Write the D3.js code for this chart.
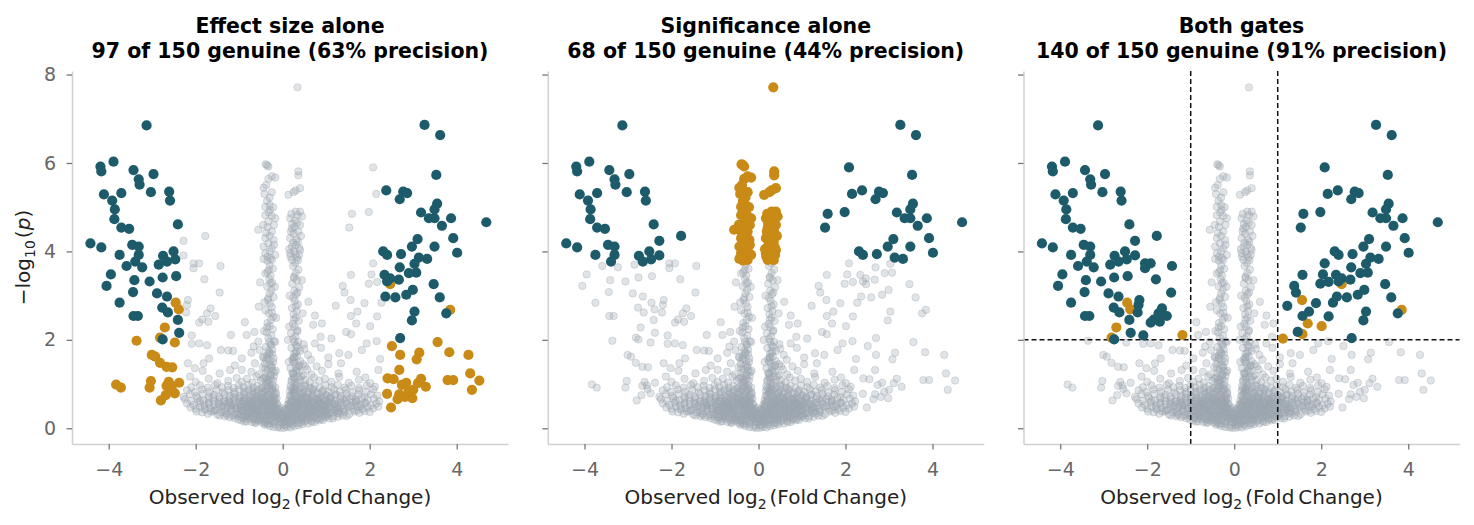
<!DOCTYPE html>
<html><head><meta charset="utf-8">
<script src="https://cdn.jsdelivr.net/npm/d3@7"></script>
<style>
body{margin:0;background:#fff}
svg text{font-family:"DejaVu Sans",sans-serif}
</style></head>
<body><svg id="chart" width="1474" height="525"></svg>
<script>
// ---------------- DATA (x = observed log2 FC, y = -log10 p), flat [x,y,...] ----------------
const titleLine1 = ["Effect size alone", "Significance alone", "Both gates"];
const titleLine2 = ["97 of 150 genuine (63% precision)", "68 of 150 genuine (44% precision)", "140 of 150 genuine (91% precision)"];
const xTicks = [-4, -2, 0, 2, 4];
const yTicks = [0, 2, 4, 6, 8];
const effectGate = 2.3, sigGate = 3.75, bothFcGate = 1, bothPGate = 2;

// genuine features
const genuineXY = [
 -3.13,6.85, -4.19,5.92, -4.17,5.81, -3.89,6.03, -3.43,5.84, -2.97,5.75, -3.31,5.63, -3.29,5.51, -4.11,5.29, -3.71,5.32,
 -3.03,5.34, -2.61,5.35, -2.59,5.15, -3.92,5.15, -3.86,4.95, -3.87,4.73, -3.71,4.54, -3.53,4.51, -2.41,4.61, -4.42,4.18,
 -4.17,4.09, -3.46,4.15, -3.31,4.11, -2.28,4.24, -1.78,4.35, -3.75,3.92, -3.31,3.92, -3.39,3.77, -3.59,3.67, -3.23,3.64,
 -2.75,3.90, -2.51,4.00, -2.28,3.91, -2.85,3.70, -2.66,3.77, -2.47,3.82, -2.05,3.73, -1.92,3.73, -1.43,3.67, -2.05,3.62,
 -3.95,3.48, -4.05,3.22, -3.41,3.35, -3.06,3.32, -2.76,3.41, -2.45,3.44, -1.80,3.37, -3.44,3.08, -3.75,2.84, -2.89,3.05,
 -2.66,2.98, -2.77,2.73, -2.64,2.62, -2.18,2.90, -2.20,2.79, -2.22,2.62, -2.41,2.45, -3.43,2.54, -3.33,2.54, -1.45,3.07,
 -1.66,2.71, -1.74,2.60, -1.55,2.54, -1.85,2.46, -1.71,2.41, -1.92,2.39, -2.38,2.16, -2.09,2.10, -2.76,2.01,
 3.26,6.86, 3.62,6.63, 2.08,5.90, 3.53,5.73, 2.15,5.30, 2.38,5.38, 2.77,5.35, 2.86,5.32, 2.69,5.18, 1.59,4.85,
 1.98,4.89, 1.53,4.54, 3.18,4.88, 3.55,5.08, 3.49,4.95, 3.36,4.75, 3.49,4.75, 3.87,4.75, 3.66,4.58, 4.68,4.66,
 3.92,4.30, 4.01,3.97, 3.10,4.28, 2.97,4.11, 3.49,4.11, 2.31,4.00, 2.40,3.92, 2.72,3.94, 3.13,3.86, 3.32,3.83,
 3.03,3.72, 2.08,3.73, 2.69,3.64, 3.07,3.52, 2.90,3.51, 1.57,3.47, 2.04,3.48, 2.34,3.47, 2.47,3.39, 2.67,3.36,
 2.40,3.32, 1.98,3.27, 2.17,3.31, 1.38,3.22, 1.42,3.07, 3.47,3.26, 3.61,2.96, 2.99,3.13, 2.84,3.02, 2.36,2.98,
 2.27,2.84, 2.59,2.96, 1.88,2.83, 1.22,2.77, 1.72,2.64, 1.57,2.54, 3.03,2.64, 2.97,2.44, 2.17,2.53, 3.76,2.60,
 1.46,2.18, 2.70,2.04
];

// null features with large observed effect
const nullFarXY = [
 -2.46,2.84, -2.39,2.69, -2.71,2.28, -2.82,2.05, -2.48,1.94, -3.36,1.98, -3.01,1.66, -2.93,1.62, -2.82,1.48, -2.67,1.39,
 -2.54,1.38, -3.83,0.99, -3.72,0.92, -3.03,1.07, -3.06,0.92, -2.67,0.96, -2.38,1.03, -2.55,0.89, -2.48,0.79, -2.80,0.63,
 -2.69,0.75, -2.57,0.97, -2.62,1.05,
 2.47,3.26, 3.85,2.68, 3.56,1.95, 2.51,1.86, 2.70,1.66, 3.14,1.71, 3.08,1.56, 3.83,1.72, 4.27,1.66, 2.68,1.32,
 4.31,1.24, 2.41,1.13, 2.55,1.11, 2.40,0.78, 2.49,0.47, 2.74,0.98, 2.84,1.03, 2.68,0.77, 2.64,0.66, 2.81,0.71,
 2.98,0.68, 3.00,0.87, 3.11,1.02, 3.29,0.94, 3.79,1.09, 3.92,1.09, 4.52,1.08, 4.35,0.87, 2.89,0.83, 3.18,1.12
];

// null features passing both gates with moderate effect
const nullMidXY = [ -1.19,2.11, 1.56,2.90, 1.69,2.37, 2.01,2.31, 1.57,2.13, 1.12,2.03 ];

// null features with very small p (near-zero effect spike)
const nullSpikeXY = [
 0.34,7.71,
 -0.39,5.97, -0.33,5.92, -0.36,5.95, -0.17,5.67, -0.33,5.64, -0.25,5.70, -0.44,5.44, -0.25,5.34, -0.38,5.50, -0.36,5.14,
 -0.30,5.22, -0.40,5.01, -0.29,4.94, -0.40,4.82, -0.17,4.75, -0.33,4.68, -0.25,4.80, -0.56,4.49, -0.25,4.45, -0.35,4.55,
 -0.40,4.30, -0.21,4.26, -0.30,4.35, -0.44,4.11, -0.25,4.07, -0.33,4.18, -0.40,3.96, -0.17,3.92, -0.30,4.00, -0.44,3.83,
 -0.25,3.81, -0.35,3.88, -0.20,4.15, -0.45,4.60, -0.20,4.60, -0.30,5.05, -0.42,5.30, -0.28,3.85, -0.38,4.42, -0.22,5.00,
 -0.32,4.88, -0.35,3.79,
 0.36,5.81, 0.36,5.72, 0.40,5.43, 0.25,5.34, 0.13,5.28, 0.30,4.90, 0.44,4.79, 0.17,4.75, 0.33,4.64, 0.21,4.52,
 0.36,4.45, 0.17,4.30, 0.35,4.22, 0.21,4.11, 0.40,4.03, 0.17,3.96, 0.33,3.86, 0.21,3.81, 0.28,4.70, 0.40,4.60,
 0.25,4.40, 0.30,4.15, 0.38,3.92, 0.26,4.00, 0.20,4.85, 0.30,5.38, 0.42,4.35, 0.15,4.05, 0.35,3.80, 0.27,4.55,
 0.40,4.90, 0.22,4.62, 0.32,4.27, 0.18,3.88, 0.29,3.93, 0.38,4.08, 0.24,4.20, 0.34,4.82, 0.19,4.45
];

// remaining null features (background cloud)
const nullCloudXY = [
 // spike columns below the significance gate
 -0.31,1.02, -0.22,1.08, -0.38,1.15, -0.27,1.21, -0.19,1.27, -0.34,1.33, -0.25,1.40, -0.41,1.46, -0.29,1.52, -0.21,1.58,
 -0.36,1.65, -0.30,1.71, -0.24,1.78, -0.39,1.84, -0.28,1.90, -0.20,1.97, -0.33,2.04, -0.26,2.10, -0.37,2.17, -0.23,2.24,
 -0.30,2.31, -0.35,2.38, -0.27,2.45, -0.22,2.52, -0.32,2.60, -0.40,2.67, -0.25,2.74, -0.29,2.82, -0.34,2.90, -0.21,2.97,
 -0.30,3.05, -0.26,3.13, -0.36,3.21, -0.24,3.29, -0.31,3.37, -0.28,3.45, -0.35,3.53, -0.23,3.61, -0.30,3.69,
 -0.45,1.12, -0.16,1.30, -0.44,1.60, -0.17,1.95, -0.43,2.20, -0.15,2.50, -0.42,2.85, -0.18,3.20, -0.40,3.50,
 0.28,1.04, 0.21,1.10, 0.35,1.17, 0.25,1.23, 0.31,1.30, 0.18,1.36, 0.38,1.43, 0.27,1.49, 0.22,1.56, 0.33,1.62,
 0.26,1.69, 0.40,1.75, 0.20,1.82, 0.30,1.88, 0.36,1.95, 0.24,2.02, 0.29,2.08, 0.19,2.15, 0.34,2.22, 0.27,2.29,
 0.23,2.36, 0.37,2.43, 0.30,2.50, 0.25,2.58, 0.32,2.65, 0.21,2.72, 0.35,2.80, 0.28,2.88, 0.24,2.95, 0.31,3.03,
 0.27,3.11, 0.38,3.19, 0.22,3.27, 0.33,3.35, 0.26,3.43, 0.30,3.51, 0.36,3.59, 0.24,3.67, 0.29,3.74,
 0.47,1.20, 0.14,1.50, 0.50,1.80, 0.15,2.30, 0.46,2.60, 0.16,3.00, 0.44,3.35, 0.52,1.40, 0.12,2.00,
 -0.35,0.95, -0.28,1.20, -0.40,1.35, -0.22,1.50, -0.33,1.75, -0.26,0.85, -0.38,1.05, 0.30,0.95, 0.22,1.25, 0.37,1.40,
 0.26,1.60, 0.33,1.85, 0.20,0.90, 0.40,1.10,
 -0.33,1.10, -0.26,1.38, -0.35,1.58, -0.24,1.68, -0.31,1.95, -0.36,2.28, -0.25,2.62, -0.33,2.95, -0.28,3.28, -0.32,3.58,
 0.25,1.15, 0.33,1.34, 0.24,1.52, 0.30,1.70, 0.27,1.96, 0.33,2.19, 0.26,2.46, 0.30,2.76, 0.34,3.07, 0.26,3.40,
 // scattered moderate points
 -0.87,2.40, -0.83,2.11, -0.65,2.18, 0.59,2.86, 0.70,2.34, 0.90,2.37, 0.87,2.07, 0.74,2.55, -0.55,2.75, -0.52,3.30,
 // y 1.5 - 2.0
 -2.09,1.91, -1.92,1.92, -1.74,1.88, -1.69,1.58, -1.42,1.77, -1.25,1.76, -1.14,1.75, -0.94,1.58, -0.72,1.71, -0.56,1.96,
 -0.67,1.85, -0.53,1.77, -0.45,1.62, -0.38,1.55, -0.30,1.70, -0.26,1.88, 0.26,1.60, 0.32,1.75, 0.40,1.52, 0.48,1.90,
 0.58,1.66, 0.74,1.92, 0.65,1.55, 1.30,1.70, 1.51,1.66, 1.82,1.77, 1.93,1.92, 2.16,1.97, 2.24,1.57, 1.05,1.60, 0.88,1.82,
 // y 1.2 - 1.5
 -2.18,1.47, -2.02,1.36, -1.82,1.47, -1.21,1.32, -0.94,1.32, -0.72,1.28, -0.64,1.47, -0.55,1.22, -0.46,1.38, -0.38,1.25,
 -0.30,1.43, -0.24,1.30, 0.24,1.24, 0.30,1.40, 0.38,1.28, 0.47,1.45, 0.56,1.33, 0.66,1.22, 0.78,1.40, 0.90,1.30,
 1.28,1.24, 1.34,1.47, 1.70,1.28, 2.20,1.32, -1.45,1.24, 1.05,1.45, -1.10,1.42,
 // y 1.0 - 1.2
 -2.13,1.17, -1.84,1.30, -1.50,1.02, -1.25,1.07, -1.06,1.14, -0.94,1.05, -0.82,1.12, -0.70,1.03, -0.60,1.17, -0.50,1.08,
 -0.42,1.15, -0.34,1.04, -0.27,1.11, -0.20,1.18, 0.20,1.06, 0.27,1.13, 0.35,1.02, 0.43,1.17, 0.52,1.09, 0.62,1.04,
 0.72,1.15, 0.84,1.08, 0.97,1.12, 1.12,1.05, 1.30,1.16, 1.52,1.03, 1.75,1.10, 2.01,1.02, 1.90,1.15, -1.70,1.12, -2.00,1.05,
 // y 0.9 - 1.0
 -2.10,0.93, -1.90,0.97, -1.72,0.92, -1.55,0.98, -1.40,0.93, -1.26,0.96, -1.13,0.91, -1.01,0.97, -0.90,0.93, -0.79,0.98,
 -0.68,0.92, -0.58,0.96, -0.48,0.91, -0.39,0.97, -0.31,0.93, -0.23,0.98, -0.17,0.92, 0.18,0.95, 0.25,0.91, 0.33,0.97,
 0.42,0.93, 0.52,0.98, 0.62,0.92, 0.73,0.96, 0.85,0.91, 0.98,0.97, 1.12,0.93, 1.27,0.98, 1.42,0.92, 1.58,0.96,
 1.75,0.91, 1.93,0.97, 2.12,0.94,
 // y 0.8 - 0.9
 -2.20,0.86, -2.02,0.82, -1.85,0.88, -1.68,0.83, -1.52,0.87, -1.38,0.81, -1.24,0.86, -1.12,0.82, -1.00,0.88, -0.89,0.83,
 -0.78,0.87, -0.67,0.81, -0.57,0.86, -0.47,0.82, -0.38,0.88, -0.30,0.83, -0.22,0.87, -0.16,0.81, 0.17,0.85, 0.24,0.81,
 0.32,0.87, 0.41,0.82, 0.50,0.88, 0.60,0.83, 0.70,0.87, 0.81,0.81, 0.93,0.86, 1.05,0.82, 1.18,0.88, 1.31,0.83,
 1.45,0.87, 1.60,0.81, 1.76,0.86, 1.92,0.82, 2.08,0.88,
 // y 0.7 - 0.8
 -2.28,0.71, -2.13,0.77, -1.98,0.73, -1.84,0.78, -1.70,0.72, -1.58,0.76, -1.46,0.71, -1.34,0.77, -1.22,0.73, -1.10,0.78,
 -0.99,0.72, -0.88,0.76, -0.78,0.71, -0.68,0.77, -0.58,0.73, -0.49,0.78, -0.40,0.72, -0.32,0.76, -0.23,0.71, -0.16,0.77,
 0.16,0.73, 0.23,0.78, 0.31,0.72, 0.40,0.76, 0.49,0.71, 0.58,0.77, 0.68,0.73, 0.78,0.78, 0.88,0.72, 0.99,0.76,
 1.10,0.71, 1.22,0.77, 1.34,0.73, 1.47,0.78, 1.60,0.72, 1.74,0.76, 1.88,0.71, 2.03,0.77, 2.18,0.74,
 // y 0.6 - 0.7
 -2.25,0.66, -2.10,0.62, -1.96,0.68, -1.82,0.63, -1.70,0.67, -1.57,0.61, -1.45,0.66, -1.33,0.62, -1.22,0.68, -1.12,0.63,
 -1.02,0.67, -0.92,0.61, -0.83,0.66, -0.74,0.62, -0.65,0.68, -0.56,0.63, -0.47,0.67, -0.38,0.61, -0.30,0.66, -0.21,0.62,
 -0.14,0.68, 0.14,0.63, 0.21,0.67, 0.29,0.61, 0.37,0.66, 0.46,0.62, 0.55,0.68, 0.64,0.63, 0.73,0.67, 0.82,0.61,
 0.91,0.66, 1.00,0.62, 1.10,0.68, 1.21,0.63, 1.32,0.67, 1.44,0.61, 1.56,0.66, 1.69,0.62, 1.81,0.68, 1.95,0.64,
 2.10,0.67, 2.22,0.61,
 // y 0.5 - 0.6
 -2.20,0.56, -2.05,0.53, -1.92,0.58, -1.80,0.52, -1.70,0.57, -1.58,0.54, -1.47,0.59, -1.38,0.51, -1.28,0.56, -1.18,0.53,
 -1.09,0.58, -0.99,0.52, -0.90,0.56, -0.81,0.51, -0.72,0.57, -0.63,0.53, -0.54,0.58, -0.46,0.52, -0.37,0.56, -0.29,0.51,
 -0.20,0.57, -0.12,0.53, 0.12,0.54, 0.20,0.59, 0.28,0.52, 0.37,0.56, 0.45,0.51, 0.54,0.58, 0.62,0.53, 0.71,0.57,
 0.80,0.52, 0.89,0.56, 0.98,0.51, 1.07,0.58, 1.17,0.53, 1.27,0.57, 1.37,0.52, 1.47,0.56, 1.57,0.51, 1.68,0.58,
 1.79,0.54, 1.91,0.57, 2.03,0.52, 2.15,0.56,
 // y 0.4 - 0.5
 -2.12,0.47, -2.00,0.44, -1.90,0.49, -1.78,0.42, -1.67,0.46, -1.56,0.41, -1.46,0.48, -1.36,0.43, -1.27,0.47, -1.17,0.42,
 -1.08,0.46, -0.98,0.41, -0.89,0.48, -0.80,0.44, -0.71,0.49, -0.62,0.42, -0.53,0.46, -0.44,0.41, -0.35,0.48, -0.27,0.43,
 -0.19,0.47, -0.10,0.42, -0.02,0.46, 0.07,0.44, 0.15,0.49, 0.23,0.41, 0.31,0.46, 0.40,0.43, 0.48,0.48, 0.57,0.42,
 0.65,0.47, 0.74,0.41, 0.83,0.45, 0.92,0.49, 1.01,0.43, 1.10,0.47, 1.20,0.42, 1.30,0.46, 1.40,0.41, 1.50,0.48,
 1.61,0.44, 1.72,0.49, 1.83,0.43, 1.95,0.47, 2.08,0.45, 2.20,0.49,
 // y 0.3 - 0.4
 -1.98,0.38, -1.85,0.36, -1.72,0.33, -1.60,0.38, -1.50,0.31, -1.41,0.36, -1.30,0.33, -1.19,0.38, -1.11,0.31, -1.00,0.35,
 -0.91,0.39, -0.82,0.32, -0.74,0.37, -0.65,0.34, -0.57,0.39, -0.49,0.31, -0.41,0.36, -0.33,0.33, -0.24,0.38, -0.16,0.31,
 -0.07,0.35, 0.02,0.39, 0.10,0.32, 0.18,0.36, 0.27,0.33, 0.35,0.38, 0.43,0.31, 0.52,0.35, 0.60,0.39, 0.69,0.32,
 0.78,0.37, 0.86,0.33, 0.95,0.38, 1.04,0.31, 1.13,0.35, 1.22,0.39, 1.31,0.33, 1.42,0.37, 1.53,0.32, 1.64,0.38,
 1.76,0.35, 1.88,0.39, 2.00,0.37,
 // y 0.2 - 0.3
 -1.45,0.29, -1.33,0.27, -1.22,0.25, -1.10,0.23, -1.02,0.28, -0.93,0.24, -0.85,0.21, -0.77,0.27, -0.68,0.23, -0.60,0.26,
 -0.52,0.22, -0.45,0.28, -0.36,0.24, -0.27,0.21, -0.18,0.27, -0.09,0.23, 0.00,0.25, 0.08,0.21, 0.16,0.28, 0.24,0.22,
 0.32,0.26, 0.40,0.23, 0.48,0.29, 0.57,0.21, 0.65,0.27, 0.73,0.24, 0.81,0.22, 0.90,0.28, 0.98,0.25, 1.07,0.23,
 1.16,0.27, 1.27,0.26, 1.38,0.29, 1.47,0.28, -0.30,0.29, 0.60,0.29, -0.80,0.29,
 // y 0.1 - 0.2
 -0.95,0.18, -0.83,0.16, -0.71,0.14, -0.62,0.12, -0.55,0.17, -0.47,0.13, -0.38,0.15, -0.29,0.11, -0.20,0.14, -0.14,0.19,
 -0.04,0.12, 0.05,0.16, 0.12,0.11, 0.19,0.17, 0.26,0.13, 0.33,0.18, 0.41,0.12, 0.50,0.15, 0.58,0.11, 0.66,0.17,
 0.74,0.14, 0.85,0.18, 0.93,0.19, -0.60,0.19, 0.45,0.19,
 // y 0.0 - 0.1
 -0.42,0.08, -0.30,0.05, -0.21,0.03, -0.12,0.02, -0.05,0.01, 0.03,0.01, 0.10,0.03, 0.18,0.02, 0.27,0.05, 0.36,0.07,
 0.45,0.09, -0.08,0.06, 0.07,0.07, -0.35,0.09, 0.22,0.08,
 // dense core fill
 -0.90,0.25, -0.78,0.35, -0.66,0.20, -0.55,0.30, -0.44,0.18, -0.33,0.27, -0.22,0.16, -0.11,0.22, 0.00,0.14, 0.11,0.24,
 0.22,0.18, 0.33,0.31, 0.44,0.20, 0.55,0.34, 0.66,0.24, 0.77,0.30, 0.88,0.36, 1.00,0.33,
 -1.05,0.45, -0.93,0.55, -0.80,0.48, -0.68,0.60, -0.57,0.44, -0.46,0.57, -0.35,0.42, -0.25,0.55, -0.15,0.40, -0.05,0.35,
 0.05,0.42, 0.16,0.52, 0.26,0.44, 0.37,0.60, 0.48,0.46, 0.59,0.55, 0.70,0.43, 0.81,0.58, 0.93,0.50, 1.05,0.56,
 -0.98,0.70, -0.86,0.82, -0.74,0.68, -0.62,0.79, -0.51,0.66, -0.41,0.85, -0.32,0.70, -0.24,0.90, -0.19,0.62, 0.19,0.74,
 0.27,0.88, 0.35,0.65, 0.45,0.80, 0.56,0.70, 0.67,0.90, 0.78,0.66, 0.90,0.82, 1.02,0.74,
 -0.28,0.50, -0.40,0.63, -0.20,0.75, 0.30,0.55, 0.42,0.70, 0.25,0.85, -0.50,0.90, 0.50,0.95, -0.70,0.45, 0.72,0.52,
 -1.20,0.50, 1.20,0.55, -1.35,0.60, 1.40,0.65, -1.60,0.70, 1.62,0.60,
 -1.55,0.42, -1.48,0.55, -1.40,0.48, -1.33,0.38, -1.25,0.62, -1.18,0.45, -1.12,0.70, -1.05,0.32, -0.99,0.60, -0.92,0.42,
 -0.86,0.68, -0.80,0.27, -0.75,0.52, -0.70,0.85, -0.64,0.40, -0.59,0.70, -0.53,0.25, -0.48,0.60, -0.43,0.78, -0.37,0.20,
 -0.32,0.48, -0.27,0.65, -0.23,0.35, -0.18,0.50, -0.13,0.28, -0.09,0.45, -0.04,0.22, 0.02,0.30, 0.06,0.18, 0.10,0.40,
 0.14,0.30, 0.18,0.60, 0.23,0.35, 0.28,0.72, 0.32,0.43, 0.37,0.22, 0.42,0.55, 0.47,0.80, 0.52,0.30, 0.57,0.62,
 0.62,0.40, 0.68,0.78, 0.73,0.28, 0.79,0.50, 0.84,0.68, 0.90,0.40, 0.96,0.58, 1.02,0.28, 1.08,0.65, 1.14,0.42,
 1.20,0.75, 1.26,0.35, 1.33,0.58, 1.40,0.45, 1.47,0.68, 1.55,0.50,
 -0.85,0.30, -0.72,0.38, -0.60,0.33, -0.50,0.40, -0.40,0.30, -0.30,0.40, -0.20,0.32, -0.10,0.30, 0.00,0.20, 0.10,0.28,
 0.20,0.40, 0.30,0.30, 0.40,0.38, 0.50,0.25, 0.60,0.45, 0.70,0.36, 0.80,0.44, -0.78,0.55, -0.62,0.50, -0.42,0.52,
 -0.33,0.58, -0.16,0.45, 0.15,0.45, 0.34,0.50, 0.52,0.52, 0.66,0.58, 0.85,0.55, -0.95,0.40, 0.95,0.42,
 -1.28,0.30, -1.15,0.28, -1.02,0.20, -0.95,0.32, -0.88,0.15, -0.82,0.40, -0.76,0.22, -0.70,0.30, -0.64,0.14, -0.58,0.38,
 -0.52,0.20, -0.47,0.33, -0.41,0.12, -0.36,0.36, -0.31,0.18, -0.26,0.30, -0.21,0.10, -0.16,0.25, -0.12,0.36, -0.07,0.16,
 -0.02,0.28, 0.03,0.08, 0.08,0.34, 0.13,0.20, 0.17,0.12, 0.21,0.30, 0.26,0.20, 0.31,0.38, 0.35,0.12, 0.39,0.30,
 0.45,0.26, 0.50,0.40, 0.55,0.18, 0.61,0.33, 0.67,0.14, 0.72,0.42, 0.78,0.20, 0.83,0.32, 0.89,0.22, 0.95,0.30,
 1.01,0.40, 1.08,0.35, 1.15,0.22, 1.22,0.45, 1.30,0.38,
 -1.22,0.58, -1.10,0.52, -0.97,0.48, -0.90,0.62, -0.84,0.50, -0.77,0.62, -0.71,0.56, -0.66,0.48, -0.61,0.62, -0.55,0.52,
 -0.50,0.70, -0.45,0.50, -0.39,0.58, -0.34,0.75, -0.29,0.60, -0.24,0.48, -0.18,0.68, -0.14,0.56, 0.14,0.55, 0.19,0.48,
 0.24,0.63, 0.29,0.80, 0.33,0.58, 0.38,0.48, 0.43,0.63, 0.49,0.56, 0.54,0.68, 0.60,0.50, 0.65,0.70, 0.70,0.60,
 0.76,0.48, 0.82,0.64, 0.88,0.56, 0.94,0.68, 1.00,0.52, 1.06,0.48, 1.13,0.60, 1.25,0.50,
 -1.80,0.45, -1.70,0.55, -1.65,0.38, 1.70,0.40, 1.78,0.50, 1.68,0.65, -1.90,0.62, 1.88,0.58
];

// ---------------- BUILD ----------------
function pairs(arr, genuine) {
  const out = [];
  for (let i = 0; i < arr.length; i += 2) out.push({x: arr[i], y: arr[i + 1], g: genuine});
  return out;
}
const points = [
  ...pairs(nullCloudXY, false), ...pairs(nullSpikeXY, false), ...pairs(nullMidXY, false),
  ...pairs(nullFarXY, false), ...pairs(genuineXY, true)
];
const gates = [
  d => Math.abs(d.x) >= effectGate,
  d => d.y >= sigGate,
  d => Math.abs(d.x) > bothFcGate && d.y > bothPGate
];

const TEAL = "#1d5b6b", GOLD = "#c98a16", GRAY = "#9aa4ae";
const svg = d3.select("#chart");
const panelLeft = [72, 547.8, 1023.5], axW = 436, axTop = 71, axH = 373;
const x = d3.scaleLinear().domain([-4.844, 5.179]).range([0, axW]);
const y = d3.scaleLinear().domain([-0.355, 8.08]).range([axH, 0]);

panelLeft.forEach((left, i) => {
  const g = svg.append("g").attr("transform", `translate(${left},${axTop})`);
  const sel = gates[i];
  const gray = points.filter(d => !sel(d));
  const gold = points.filter(d => sel(d) && !d.g);
  const teal = points.filter(d => sel(d) && d.g);

  g.append("g").selectAll("circle").data(gray).join("circle")
    .attr("cx", d => x(d.x)).attr("cy", d => y(d.y)).attr("r", 3.7)
    .attr("fill", GRAY).attr("fill-opacity", 0.3)
    .attr("stroke", GRAY).attr("stroke-opacity", 0.34).attr("stroke-width", 1);

  if (i === 2) {
    const dash = g.append("g").attr("stroke", "#111").attr("stroke-width", 1.5).attr("stroke-dasharray", "5,3").attr("fill", "none");
    [-bothFcGate, bothFcGate].forEach(v => dash.append("line").attr("x1", x(v)).attr("x2", x(v)).attr("y1", 0).attr("y2", axH));
    dash.append("line").attr("x1", 0).attr("x2", axW).attr("y1", y(bothPGate)).attr("y2", y(bothPGate));
  }

  g.append("g").selectAll("circle").data(gold).join("circle")
    .attr("cx", d => x(d.x)).attr("cy", d => y(d.y)).attr("r", 5.1).attr("fill", GOLD);
  g.append("g").selectAll("circle").data(teal).join("circle")
    .attr("cx", d => x(d.x)).attr("cy", d => y(d.y)).attr("r", 5.1).attr("fill", TEAL);

  // axes
  const xa = g.append("g").attr("transform", `translate(0,${axH})`)
    .call(d3.axisBottom(x).tickValues(xTicks).tickSize(5.5).tickSizeOuter(0).tickPadding(13));
  const ya = g.append("g")
    .call(d3.axisLeft(y).tickValues(yTicks).tickSize(5.5).tickSizeOuter(0).tickPadding(10.5)
      .tickFormat(i === 0 ? d3.format("d") : () => ""));
  [xa, ya].forEach(a => {
    a.select(".domain").attr("stroke", "#d0d0d0").attr("stroke-width", 1.5);
    a.selectAll(".tick line").attr("stroke", "#777").attr("stroke-width", 1.3);
    a.selectAll(".tick text").attr("fill", "#666").style("font-size", "19px");
  });

  // titles
  const cx = axW / 2;
  g.append("text").attr("x", cx).attr("y", 33 - axTop).attr("text-anchor", "middle")
    .style("font-size", "20.5px").style("font-weight", "bold").attr("fill", "#000").text(titleLine1[i]);
  g.append("text").attr("x", cx).attr("y", 58 - axTop).attr("text-anchor", "middle")
    .style("font-size", "20.5px").style("font-weight", "bold").attr("fill", "#000").text(titleLine2[i]);

  // x label
  const xl = g.append("text").attr("x", cx).attr("y", 504 - axTop).attr("text-anchor", "middle")
    .style("font-size", "20px").attr("fill", "#222");
  xl.append("tspan").text("Observed log");
  xl.append("tspan").attr("dy", 5).style("font-size", "14px").text("2");
  xl.append("tspan").attr("dy", -5).attr("dx", 3).text("(Fold\u2009Change)");

  if (i === 0) {
    const yl = g.append("text").attr("transform", `translate(${30 - left},${axH / 2}) rotate(-90)`)
      .attr("text-anchor", "middle").style("font-size", "20px").attr("fill", "#222");
    yl.append("tspan").text("\u2212log");
    yl.append("tspan").attr("dy", 5).style("font-size", "14px").text("10");
    yl.append("tspan").attr("dy", -5).attr("dx", 2).text("(");
    yl.append("tspan").style("font-style", "italic").text("p");
    yl.append("tspan").text(")");
  }
});
</script></body></html>
